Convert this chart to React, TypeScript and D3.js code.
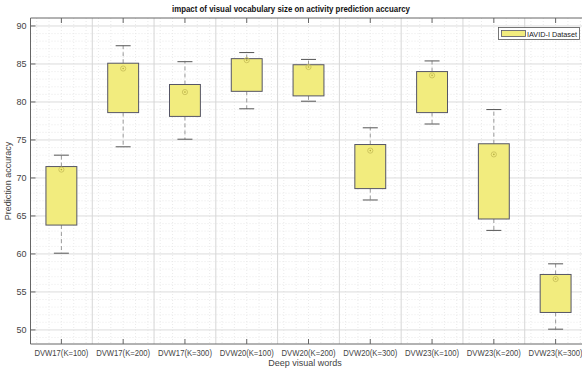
import React from 'react';
import * as d3 from 'd3';

// data
const categories = [
  'DVW17(K=100)', 'DVW17(K=200)', 'DVW17(K=300)',
  'DVW20(K=100)', 'DVW20(K=200)', 'DVW20(K=300)',
  'DVW23(K=100)', 'DVW23(K=200)', 'DVW23(K=300)',
];
const whiskerLow = [60.1, 74.1, 75.1, 79.1, 80.1, 67.1, 77.1, 63.1, 50.1];
const q1 = [63.8, 78.6, 78.1, 81.4, 80.8, 68.6, 78.6, 64.6, 52.3];
const q3 = [71.5, 85.1, 82.3, 85.7, 84.9, 74.4, 84.0, 74.5, 57.3];
const whiskerHigh = [73.0, 87.4, 85.3, 86.5, 85.6, 76.6, 85.4, 79.0, 58.7];
const means = [71.1, 84.4, 81.3, 85.5, 84.6, 73.6, 83.5, 73.1, 56.7];
const yTicks = [50, 55, 60, 65, 70, 75, 80, 85, 90];

const W = 582;
const H = 371;
const m = { left: 30.5, top: 18, right: 586.5, bottom: 344 };
const font = '"Liberation Sans", Arial, sans-serif';

export default function App() {
  const x = d3.scaleLinear().domain([0.5, 9.5]).range([m.left, m.right]);
  const y = d3.scaleLinear().domain([48.15, 91.05]).range([m.bottom, m.top]);
  const idx = categories.map((_, i) => i + 1);

  const minorX = d3.range(6, 95, 2).map(v => v / 10).filter(v => Math.abs(v % 1 - 0.5) > 0.01);
  const majorX = d3.range(1.5, 9.5, 1);
  const minorY = d3.range(49, 91, 1).filter(v => v % 5 !== 0);

  const boxW = x(1.5) - x(1);
  const capW = 15;

  return (
    <div style={{ position: 'fixed', left: 0, top: 0 }}>
      <svg width={W} height={H} style={{ display: 'block', background: '#fff' }} fontFamily={font}>
        {/* grid */}
        <g>
          {minorY.map(v => (
            <line key={'my' + v} x1={m.left} x2={m.right} y1={y(v)} y2={y(v)}
              stroke="#e4e4e4" strokeWidth={0.8} strokeDasharray="1,2" />
          ))}
          {minorX.map(v => (
            <line key={'mx' + v} x1={x(v)} x2={x(v)} y1={m.top} y2={m.bottom}
              stroke="#e4e4e4" strokeWidth={0.8} strokeDasharray="1,2" />
          ))}
          {yTicks.map(v => (
            <line key={'gy' + v} x1={m.left} x2={m.right} y1={y(v)} y2={y(v)}
              stroke="#dcdcdc" strokeWidth={1} />
          ))}
          {majorX.map(v => (
            <line key={'gx' + v} x1={x(v)} x2={x(v)} y1={m.top} y2={m.bottom}
              stroke="#d6d6d6" strokeWidth={1} />
          ))}
        </g>

        {/* axes frame */}
        <line x1={m.left} x2={m.right} y1={m.top} y2={m.top} stroke="#666" />
        <line x1={m.left} x2={m.right} y1={m.bottom} y2={m.bottom} stroke="#666" />
        <line x1={m.left} x2={m.left} y1={m.top} y2={m.bottom} stroke="#666" />

        {/* ticks */}
        {idx.map(i => (
          <g key={'xt' + i}>
            <line x1={x(i)} x2={x(i)} y1={m.bottom} y2={m.bottom - 5} stroke="#666" />
            <line x1={x(i)} x2={x(i)} y1={m.top} y2={m.top + 5} stroke="#666" />
            <text x={x(i)} y={m.bottom + 12} fontSize={8.5} fill="#444" textAnchor="middle"
              textLength={54} lengthAdjust="spacingAndGlyphs">
              {categories[i - 1]}
            </text>
          </g>
        ))}
        {yTicks.map(v => (
          <g key={'yt' + v}>
            <line x1={m.left} x2={m.left + 5} y1={y(v)} y2={y(v)} stroke="#666" />
            <text x={m.left - 4} y={y(v) + 3} fontSize={9} fill="#444" textAnchor="end">{v}</text>
          </g>
        ))}

        {/* boxes */}
        {idx.map(i => {
          const k = i - 1;
          const cx = x(i);
          return (
            <g key={'b' + i}>
              <line x1={cx} x2={cx} y1={y(q3[k])} y2={y(whiskerHigh[k])}
                stroke="#999" strokeWidth={1} strokeDasharray="4,3" />
              <line x1={cx} x2={cx} y1={y(q1[k])} y2={y(whiskerLow[k])}
                stroke="#999" strokeWidth={1} strokeDasharray="4,3" />
              <line x1={cx - capW / 2} x2={cx + capW / 2} y1={y(whiskerHigh[k])} y2={y(whiskerHigh[k])}
                stroke="#555" strokeWidth={1} />
              <line x1={cx - capW / 2} x2={cx + capW / 2} y1={y(whiskerLow[k])} y2={y(whiskerLow[k])}
                stroke="#555" strokeWidth={1} />
              <rect x={cx - boxW / 2} y={y(q3[k])} width={boxW} height={y(q1[k]) - y(q3[k])}
                fill="#f2ec7e" stroke="#555566" strokeWidth={1} />
              <circle cx={cx} cy={y(means[k])} r={2.6} fill="none" stroke="#c9c15a" strokeWidth={0.9} />
              <circle cx={cx} cy={y(means[k])} r={0.8} fill="#b3aa3c" />
            </g>
          );
        })}

        {/* title and axis labels */}
        <text x={291} y={12} fontSize={8.5} fontWeight="bold" textAnchor="middle" fill="#111"
          textLength={238} lengthAdjust="spacingAndGlyphs">
          impact of visual vocabulary size on activity prediction accuarcy
        </text>
        <text x={305} y={366} fontSize={9} textAnchor="middle" fill="#444">Deep visual words</text>
        <text transform={`translate(11,${(m.top + m.bottom) / 2}) rotate(-90)`} fontSize={9}
          textAnchor="middle" fill="#444">Prediction accuracy</text>

        {/* legend */}
        <g>
          <rect x={498.5} y={27.5} width={81} height={12} fill="#fff" stroke="#555" strokeWidth={0.8} />
          <rect x={501.5} y={30.5} width={24} height={6} fill="#f2ec7e" stroke="#555566" strokeWidth={0.8} />
          <text x={527} y={36.5} fontSize={8} fill="#222" textLength={50}
            lengthAdjust="spacingAndGlyphs">IAVID-I Dataset</text>
        </g>
      </svg>
    </div>
  );
}
